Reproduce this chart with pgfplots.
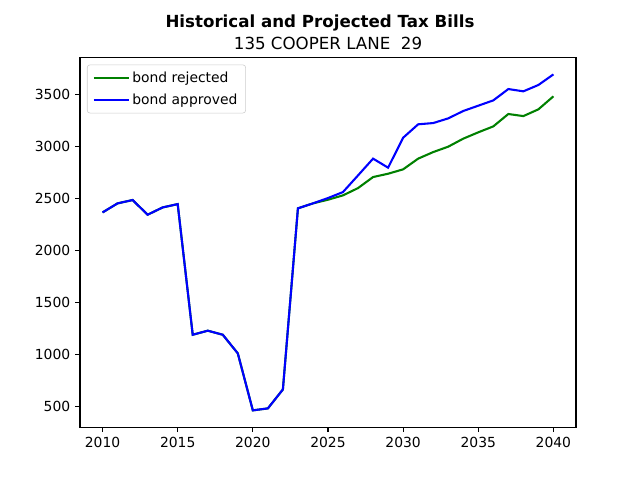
\documentclass[border=0pt]{standalone}
\usepackage{pgfplots}
\pgfplotsset{compat=1.18}
\usepackage{fontspec}
\setmainfont{DejaVu Sans}
\definecolor{mplgreen}{RGB}{0,128,0}
\definecolor{mplblue}{RGB}{0,0,255}
\begin{document}
\begin{tikzpicture}
\path[use as bounding box] (0,0) rectangle (460.8pt,345.6pt);
\begin{axis}[
  at={(57.6pt,38pt)}, anchor=south west,
  scale only axis, width=357.1pt, height=266.1pt,
  xmin=2008.5, xmax=2041.5, ymin=300, ymax=3853,
  xtick={2010,2015,...,2040}, ytick={500,1000,...,3500},
  tick align=outside, tick pos=left,
  major tick length=3.5pt,
  every tick/.style={black, line width=0.8pt},
  axis line style={line width=0.8pt},
  /pgf/number format/assume math mode=true,
  /pgf/number format/1000 sep={},
  tick label style={font=\fontsize{10}{12}\selectfont},
  legend style={at={(0,1)}, anchor=north west, xshift=5pt, yshift=-5pt,
    draw=black!20, rounded corners=2pt, font=\fontsize{10}{12}\selectfont,
    inner xsep=4pt, inner ysep=3pt, row sep=2.5pt},
  legend cell align=left,
  legend image code/.code={\draw[#1] (0pt,0pt) -- (20pt,0pt); \path (0pt,0pt) -- (25pt,0pt);},
]
\addplot[mplgreen, line width=1.5pt] coordinates {
(2010,2365)(2011,2452)(2012,2484)(2013,2343)(2014,2413)(2015,2445)
(2016,1189)(2017,1228)(2018,1189)(2019,1010)(2020,462)(2021,481)(2022,663)
(2023,2404)(2024,2452)(2025,2487)(2026,2529)(2027,2599)(2028,2705)(2029,2737)
(2030,2779)(2031,2882)(2032,2945)(2033,2997)(2034,3074)(2035,3135)(2036,3192)
(2037,3311)(2038,3291)(2039,3356)(2040,3481)};
\addlegendentry{bond rejected}
\addplot[mplblue, line width=1.5pt] coordinates {
(2010,2365)(2011,2452)(2012,2484)(2013,2343)(2014,2413)(2015,2445)
(2016,1189)(2017,1228)(2018,1189)(2019,1010)(2020,462)(2021,481)(2022,663)
(2023,2404)(2024,2452)(2025,2503)(2026,2561)(2027,2721)(2028,2882)(2029,2795)
(2030,3083)(2031,3212)(2032,3224)(2033,3269)(2034,3340)(2035,3391)(2036,3442)
(2037,3551)(2038,3529)(2039,3590)(2040,3692)};
\addlegendentry{bond approved}
\end{axis}
\node[anchor=north, font=\bfseries\fontsize{12}{14}\selectfont] at (230.4pt,338.7pt) {Historical and Projected Tax Bills};
\node[anchor=base, font=\fontsize{12}{14}\selectfont] at (236.2pt,310.1pt) {135 COOPER LANE\ \ 29};
\end{tikzpicture}
\end{document}
